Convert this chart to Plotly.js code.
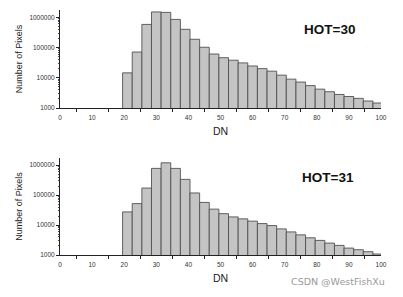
<!DOCTYPE html>
<html>
<head>
<meta charset="utf-8">
<script src="https://cdn.plot.ly/plotly-3.0.1.min.js"></script>
<style>html,body{margin:0;padding:0;background:#fff;}#chart{width:403px;height:297px;}</style>
</head>
<body>
<div id="chart"></div>
<script>
// DN bin centres (bins 3 DN wide)
const dnBins = [21,24,27,30,33,36,39,42,45,48,51,54,57,60,63,66,69,72,75,78,81,84,87,90,93,96,99];
// Number of pixels, HOT=30
const pixelsHot30 = [14500,71000,580000,1500000,1450000,850000,400000,187000,102000,61000,46000,38000,31000,24500,20000,16500,12200,9000,7200,5500,4200,3450,2800,2400,2080,1700,1460];
// Number of pixels, HOT=31
const pixelsHot31 = [27500,52000,172000,780000,1200000,780000,335000,118000,57000,34000,24000,18700,16100,13500,11200,9600,7450,5900,4700,3750,3070,2500,2090,1700,1500,1290,1080];
const panelLabels = ["HOT=30", "HOT=31"];
const xTickVals = [0,10,20,30,40,50,60,70,80,90,100];
const yTickVals = [1000,10000,100000,1000000];
const yTickText = ["1000","10000","100000","1000000"];

const yMinor = [];
for (let d = 1000; d < 2000000; d *= 10) {
  for (let m = 2; m <= 9; m++) { if (d*m < 1750000) yMinor.push(d*m); }
}

const barStyle = {color:'#c4c4c4', line:{color:'#505050', width:0.9}};
const traces = [
  {type:'bar', x:dnBins, y:pixelsHot30, width:3, marker:barStyle, xaxis:'x', yaxis:'y', hoverinfo:'skip'},
  {type:'bar', x:dnBins, y:pixelsHot31, width:3, marker:barStyle, xaxis:'x2', yaxis:'y2', hoverinfo:'skip'}
];

const tickFont = {family:'Liberation Sans, Arial, sans-serif', size:6.5, color:'#333'};
function xAxis(anchor) {
  return {
    anchor:anchor, range:[0,100], tickmode:'array', tickvals:xTickVals,
    ticks:'', tickfont:tickFont, showline:true, linecolor:'#222', linewidth:1,
    showgrid:false, zeroline:false, ticklabelstandoff:3,
    minor:{tickmode:'array', tickvals:[5,15,25,35,45,55,65,75,85,95], ticks:'outside', ticklen:3, tickcolor:'#222', tickwidth:1, showgrid:false},
    title:{text:'DN', font:{family:'Liberation Sans, Arial, sans-serif', size:10.5, color:'#222'}, standoff:7}
  };
}
function yAxis(anchor, domain) {
  return {
    anchor:anchor, domain:domain, type:'log', range:[3, 6.24],
    tickmode:'array', tickvals:yTickVals, ticktext:yTickText,
    ticks:'outside', ticklen:3, tickcolor:'#222', tickfont:tickFont,
    showline:true, linecolor:'#222', linewidth:1, showgrid:false, zeroline:false,
    minor:{tickmode:'array', tickvals:yMinor, ticks:'outside', ticklen:1.5, tickcolor:'#222', tickwidth:0.8, showgrid:false},
    title:{text:'Number of Pixels', font:{family:'Liberation Sans, Arial, sans-serif', size:9, color:'#222'}, standoff:5}
  };
}

const layout = {
  width:403, height:297,
  margin:{l:60, r:22, t:10, b:42},
  paper_bgcolor:'#fff', plot_bgcolor:'#fff',
  showlegend:false, bargap:0,
  xaxis: xAxis('y'),
  yaxis: yAxis('x', [0.6, 1]),
  xaxis2: xAxis('y2'),
  yaxis2: yAxis('x2', [0, 0.396]),
  annotations:[
    {text:panelLabels[0], xref:'paper', yref:'paper', x:0.84, y:0.92, showarrow:false, xanchor:'center', yanchor:'middle',
     font:{family:'Liberation Sans, Arial, sans-serif', size:13.5, color:'#111', weight:'bold'}},
    {text:panelLabels[1], xref:'paper', yref:'paper', x:0.835, y:0.315, showarrow:false, xanchor:'center', yanchor:'middle',
     font:{family:'Liberation Sans, Arial, sans-serif', size:13.5, color:'#111', weight:'bold'}},
    {text:'CSDN @WestFishXu', xref:'paper', yref:'paper', x:1.02, y:-0.11, showarrow:false, xanchor:'right', yanchor:'middle',
     font:{family:'DejaVu Sans, sans-serif', size:9.5, color:'#9a9a9a'}}
  ]
};

Plotly.newPlot('chart', traces, layout, {staticPlot:true, displayModeBar:false});
</script>
</body>
</html>
